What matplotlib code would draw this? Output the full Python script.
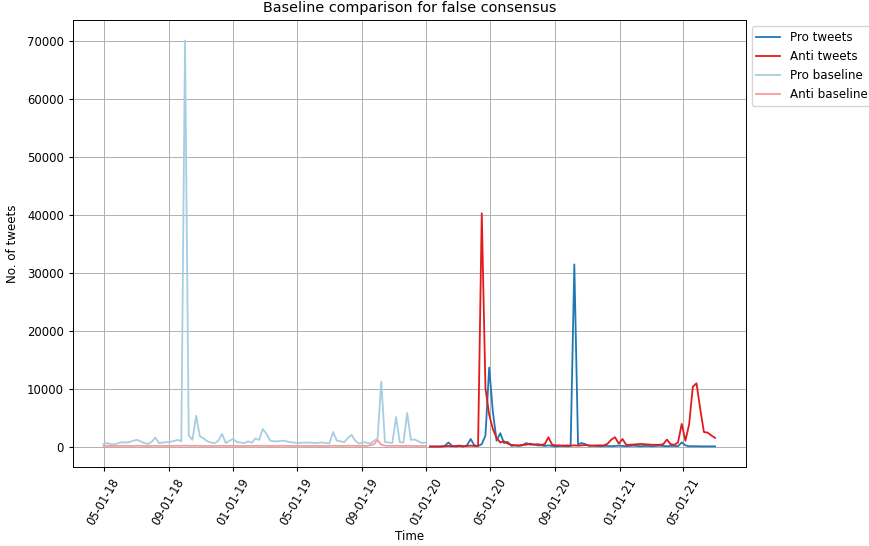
import matplotlib
matplotlib.use('Agg')
import matplotlib.pyplot as plt
import matplotlib.dates as mdates
import pandas as pd

# weekly counts, baseline period (May 2018 - Dec 2019)
baseline_dates = pd.date_range('2018-05-01', periods=88, freq='7D')
pro_baseline = [
    460, 600, 400, 350, 600, 750, 700, 750, 1000, 1150,
    900, 600, 450, 800, 1550, 575, 700, 750, 800, 950,
    1150, 900, 70000, 1900, 1150, 5300, 1800, 1400, 900, 700,
    575, 1000, 2200, 600, 1000, 1300, 750, 700, 575, 900,
    630, 1400, 1150, 3000, 2200, 1000, 900, 900, 1000, 980,
    800, 700, 650, 600, 700, 650, 700, 600, 650, 700,
    600, 550, 2500, 1000, 900, 750, 1500, 2000, 1000, 500,
    700, 700, 500, 1000, 1300, 11200, 750, 700, 600, 5100,
    750, 700, 5800, 1150, 1200, 900, 600, 700,
]
anti_baseline = [
    100, 120, 90, 110, 100, 130, 120, 100, 110, 140,
    120, 100, 90, 110, 130, 100, 120, 110, 100, 120,
    130, 110, 150, 120, 110, 130, 120, 100, 110, 100,
    90, 110, 120, 100, 110, 120, 100, 90, 100, 110,
    100, 120, 110, 130, 120, 100, 110, 100, 120, 110,
    100, 90, 100, 110, 100, 90, 100, 110, 100, 90,
    100, 110, 130, 110, 100, 110, 120, 130, 110, 100,
    110, 100, 200, 400, 1100, 300, 150, 120, 110, 130,
    110, 100, 120, 110, 100, 90, 100, 110,
]

# weekly counts, campaign period (Jan 2020 - Jun 2021)
tweet_dates = pd.date_range('2020-01-08', periods=78, freq='7D')
pro_tweets = [
    0, 0, 0, 0, 100, 700, 100, 0, 100, 0,
    200, 1300, 200, 100, 400, 1900, 13600, 6000, 1000, 2300,
    600, 800, 100, 200, 100, 200, 600, 300, 400, 200,
    200, 100, 200, 100, 0, 100, 100, 50, 100, 31400,
    400, 600, 400, 100, 150, 100, 50, 100, 100, 50,
    100, 150, 100, 50, 100, 150, 100, 50, 100, 100,
    50, 100, 150, 100, 50, 100, 100, 50, 700, 200,
    50, 50, 50, 30, 30, 30, 30, 30,
]
anti_tweets = [
    0, 0, 0, 0, 50, 100, 50, 100, 150, 50,
    100, 150, 100, 100, 40200, 10000, 5500, 3000, 1500, 700,
    900, 500, 300, 200, 200, 300, 300, 500, 300, 400,
    300, 400, 1600, 300, 200, 200, 150, 200, 150, 200,
    150, 200, 250, 200, 150, 200, 200, 200, 500, 1200,
    1600, 500, 1300, 300, 300, 350, 400, 450, 400, 350,
    300, 300, 300, 400, 1200, 400, 300, 700, 3900, 1000,
    3800, 10300, 10900, 6500, 2500, 2400, 1900, 1500,
]

# the original looks like a default figure scaled down by ~0.86
plt.rcParams['font.size'] = 8.6
plt.rcParams['xtick.labelsize'] = 8.3
plt.rcParams['ytick.labelsize'] = 8.4
plt.rcParams['xtick.major.size'] = 3.0
plt.rcParams['ytick.major.size'] = 3.0
plt.rcParams['grid.linewidth'] = 0.7
plt.rcParams['axes.linewidth'] = 0.7

pal = plt.get_cmap('Paired').colors

fig, ax = plt.subplots(figsize=(8.69, 5.46), dpi=100)
fig.subplots_adjust(left=0.084, right=0.858, top=0.963, bottom=0.145)

ax.plot(tweet_dates, pro_tweets, color=pal[1], lw=1.3, label='Pro tweets')
ax.plot(tweet_dates, anti_tweets, color=pal[5], lw=1.3, label='Anti tweets')
ax.plot(baseline_dates, pro_baseline, color=pal[0], lw=1.3, label='Pro baseline')
ax.plot(baseline_dates, anti_baseline, color=pal[4], lw=1.3, label='Anti baseline')

ax.xaxis.set_major_locator(mdates.MonthLocator(bymonth=[1, 5, 9]))
ax.xaxis.set_major_formatter(mdates.DateFormatter('%m-%d-%y'))
plt.setp(ax.get_xticklabels(), rotation=60)

ax.set_title('Baseline comparison for false consensus', fontsize=10.4)
ax.set_xlabel('Time', labelpad=2)
ax.set_ylabel('No. of tweets', labelpad=6)
ax.grid(True)
ax.legend(loc='upper left', bbox_to_anchor=(1.0, 1.0))

fig.savefig('out.png', dpi=100)
